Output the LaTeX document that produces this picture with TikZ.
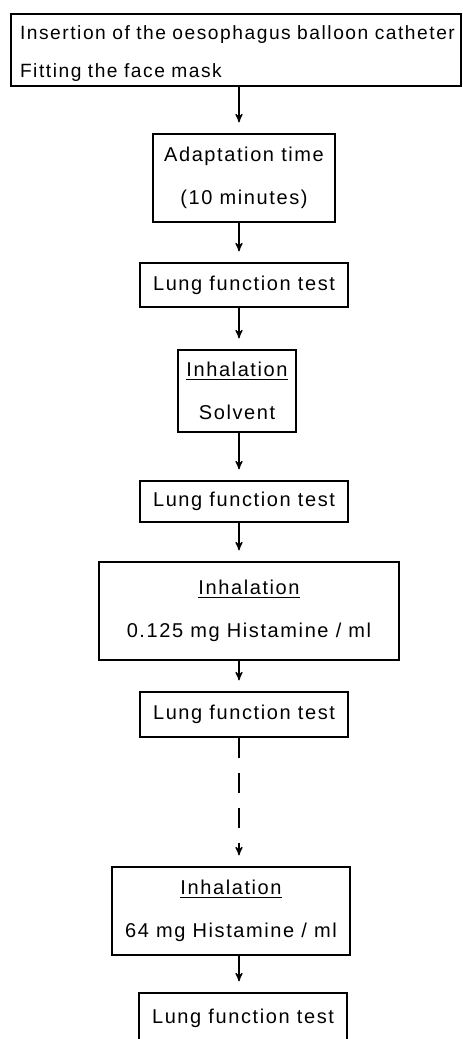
\documentclass[tikz,border=0pt]{standalone}
\usepackage{fontspec}
\setmainfont{Liberation Sans}[LetterSpace=8]
\usepackage{tikz}
\usetikzlibrary{arrows}

\begin{document}
\begin{tikzpicture}[>=stealth',x=0.5pt,y=-0.5pt,node distance=55pt,
        stage/.style={draw,line width=0.6pt,inner sep=0pt,align=center,
                      font=\fontsize{10pt}{21.5pt}\selectfont},
        test/.style={stage,minimum width=104pt,minimum height=22pt},
        flow/.style={->,line width=0.6pt,shorten >=5.5pt}]

        \useasboundingbox (0,0) rectangle (462,1039);
        \clip (0,0) rectangle (462,1039);

        \coordinate (col) at (239,0);

        \node [stage,align=left,inner xsep=4.5pt,text width=216pt,minimum height=36pt,
               font=\fontsize{9.6pt}{18.5pt}\selectfont] (prep) at (236,50)
              {\rule{0pt}{10.7pt}Insertion of the oesophagus balloon catheter\\[0.5pt]Fitting the face mask};
        \node [stage,minimum width=91pt,minimum height=44pt] (adapt)
              [below of=prep, node distance=64pt, xshift=4pt] {Adaptation time\\(10 minutes)};
        \node [test] (lft1) [below of=adapt, node distance=53.5pt] {Lung function test};
        \node [stage,minimum width=59pt,minimum height=41pt] (inh1)
              [below of=lft1, node distance=53pt, xshift=-3.5pt] {\underline{Inhalation}\\Solvent};
        \node [test,minimum height=20.5pt] (lft2)
              [below of=inh1, node distance=55.25pt, xshift=3.5pt] {Lung function test};
        \node [stage,minimum width=150pt,minimum height=49pt] (inh2)
              [below of=lft2, node distance=54.75pt, xshift=2.5pt] {\underline{Inhalation}\\0.125 mg Histamine / ml};
        \node [test,minimum height=22.5pt] (lft3)
              [below of=inh2, node distance=51.75pt, xshift=-2.5pt] {Lung function test};
        \node [stage,minimum width=119pt,minimum height=44pt] (inh3)
              [below of=lft3, node distance=98.25pt, xshift=-6.5pt] {\underline{Inhalation}\\64 mg Histamine / ml};
        \node [test,minimum height=25pt] (lft4)
              [below of=inh3, node distance=53.5pt, xshift=6pt] {Lung function test};

        \path [flow]
          (prep.south -| col)  edge (adapt.north -| col)
          (adapt.south -| col) edge (lft1.north -| col)
          (lft1.south -| col)  edge (inh1.north -| col)
          (inh1.south -| col)  edge (lft2.north -| col)
          (lft2.south -| col)  edge (inh2.north -| col)
          (inh2.south -| col)  edge (lft3.north -| col)
          (lft3.south -| col)  edge[dash pattern=on 10pt off 7.5pt] (inh3.north -| col)
          (inh3.south -| col)  edge (lft4.north -| col)
        ;
      \end{tikzpicture}
\end{document}
